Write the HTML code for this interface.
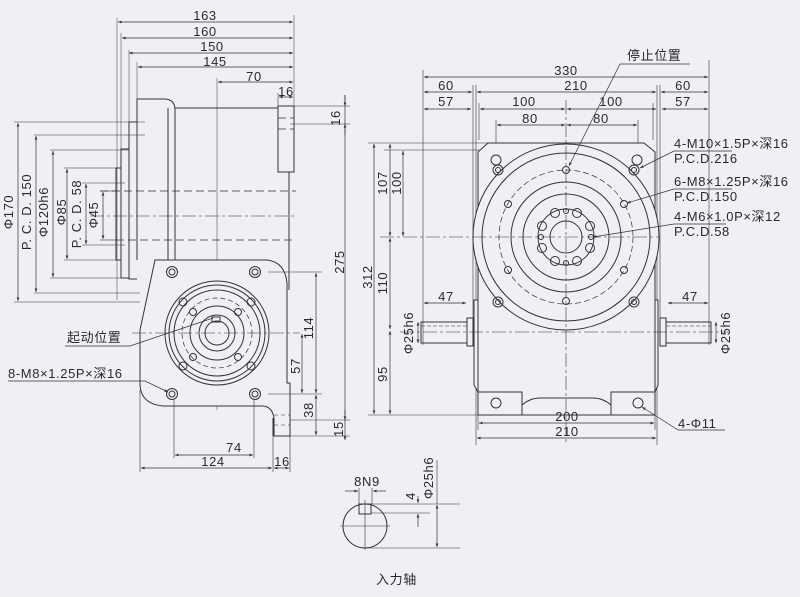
<!DOCTYPE html>
<html><head><meta charset="utf-8"><style>
html,body{margin:0;padding:0;background:#eef0f4}
svg{display:block}
text{font-family:"Liberation Sans","Noto Sans CJK SC",sans-serif;fill:#2a2a2a;font-size:13px;letter-spacing:0.6px}
</style></head><body>
<svg width="800" height="597" viewBox="0 0 800 597" xmlns="http://www.w3.org/2000/svg">
<defs>
<marker id="a" viewBox="0 0 10 10" refX="10" refY="5" markerWidth="7" markerHeight="5" orient="auto-start-reverse"><path d="M0,1 L10,5 L0,9z" fill="#333"/></marker>
</defs>
<rect width="800" height="597" fill="#eef0f4"/>
<g stroke="#333" fill="none" stroke-width="1">
<g stroke-width="0.6" stroke="#555">
<line x1="117" y1="18" x2="117" y2="300"/><line x1="121" y1="33" x2="121" y2="168"/>
<line x1="129" y1="50" x2="129" y2="122"/><line x1="137" y1="62" x2="137" y2="99"/>
<line x1="294" y1="15" x2="294" y2="106"/><line x1="217" y1="78" x2="217" y2="410"/>
</g>
<g stroke-width="0.7" marker-start="url(#a)" marker-end="url(#a)">
<line x1="118" y1="22" x2="293" y2="22"/><line x1="122" y1="38" x2="293" y2="38"/>
<line x1="129" y1="53" x2="293" y2="53"/><line x1="138" y1="67" x2="293" y2="67"/>
<line x1="218" y1="82" x2="293" y2="82"/><line x1="279" y1="97" x2="293" y2="97"/>
</g>
<line x1="278" y1="93" x2="278" y2="106" stroke-width="0.6"/>
<path d="M137,260 V99 H164 Q175,99 175,110 V260"/>
<line x1="168" y1="108" x2="168" y2="260"/>
<path d="M175,108 H278"/>
<rect x="278" y="106" width="16" height="66"/>
<line x1="289" y1="172" x2="289" y2="290"/>
<path d="M137,122 H129 V279 H137" />
<path d="M129,149 H121 V278 H129"/>
<path d="M121,168 H116 V260 H121"/>
<g stroke-dasharray="8,4" stroke-width="0.7">
<line x1="100" y1="191" x2="296" y2="191"/><line x1="116" y1="240" x2="296" y2="240"/>
<line x1="278" y1="118" x2="294" y2="118"/><line x1="278" y1="129" x2="294" y2="129"/>
</g>
<line x1="90" y1="216" x2="296" y2="216" stroke-dasharray="14,3,3,3" stroke-width="0.6"/>
<g stroke-width="0.6">
<line x1="14" y1="122" x2="145" y2="122"/><line x1="34" y1="135" x2="145" y2="135"/>
<line x1="50" y1="150" x2="129" y2="150"/><line x1="64" y1="168" x2="116" y2="168"/>
<line x1="82" y1="183" x2="125" y2="183"/><line x1="100" y1="191" x2="116" y2="191"/>
<line x1="100" y1="240" x2="116" y2="240"/><line x1="82" y1="245" x2="125" y2="245"/>
<line x1="64" y1="260" x2="116" y2="260"/><line x1="50" y1="278" x2="129" y2="278"/>
<line x1="34" y1="293" x2="140" y2="293"/><line x1="14" y1="302" x2="140" y2="302"/>
</g>
<g stroke-width="0.7" marker-start="url(#a)" marker-end="url(#a)">
<line x1="18" y1="123" x2="18" y2="301"/><line x1="36" y1="136" x2="36" y2="292"/>
<line x1="53" y1="151" x2="53" y2="277"/><line x1="67" y1="169" x2="67" y2="259"/>
<line x1="86" y1="184" x2="86" y2="244"/><line x1="103" y1="192" x2="103" y2="239"/>
</g>
<path d="M155,260 H267 Q285,262 287,283 V383 L290,383 V436 H274 V418 Q272,406 262,406 H163 Q141,404 140,385 V330 Z" fill="#eef0f4"/>
<line x1="273" y1="418" x2="273" y2="436"/>
<g stroke-dasharray="4,3" stroke-width="0.6"><line x1="274" y1="415" x2="290" y2="415"/><line x1="274" y1="425" x2="290" y2="425"/></g>
<g>
<circle cx="172" cy="272" r="5.5"/><circle cx="172" cy="272" r="3"/>
<circle cx="255" cy="272" r="5.5"/><circle cx="255" cy="272" r="3"/>
<circle cx="172" cy="394" r="5.5"/><circle cx="172" cy="394" r="3"/>
<circle cx="255" cy="394" r="5.5"/><circle cx="255" cy="394" r="3"/>
</g>
<circle cx="217" cy="333" r="52"/><circle cx="217" cy="333" r="48"/>
<circle cx="217" cy="333" r="43"/><circle cx="217" cy="333" r="35" stroke-dasharray="5,3" stroke-width="0.7"/>
<circle cx="217" cy="333" r="27"/><circle cx="217" cy="333" r="18"/><circle cx="217" cy="333" r="12"/>
<circle cx="183" cy="302" r="4"/><circle cx="251" cy="302" r="4"/><circle cx="183" cy="366" r="4"/><circle cx="251" cy="366" r="4"/>
<circle cx="193" cy="312" r="3.5"/><circle cx="238" cy="312" r="3.5"/><circle cx="193" cy="357" r="3.5"/><circle cx="238" cy="357" r="3.5"/>
<rect x="212" y="317" width="8" height="5"/>
<line x1="132" y1="333" x2="300" y2="333" stroke-dasharray="14,3,3,3" stroke-width="0.6"/>
<g stroke-width="0.6">
<line x1="268" y1="272" x2="322" y2="272"/><line x1="268" y1="394" x2="322" y2="394"/>
<line x1="290" y1="436" x2="350" y2="436"/><line x1="290" y1="420" x2="350" y2="420"/>
<line x1="294" y1="106" x2="350" y2="106"/><line x1="290" y1="124" x2="350" y2="124"/>
<line x1="140" y1="390" x2="140" y2="472"/><line x1="174" y1="400" x2="174" y2="458"/>
<line x1="254" y1="400" x2="254" y2="458"/><line x1="273" y1="436" x2="273" y2="472"/>
<line x1="290" y1="436" x2="290" y2="472"/>
</g>
<g stroke-width="0.7" marker-start="url(#a)" marker-end="url(#a)">
<line x1="316" y1="273" x2="316" y2="393"/><line x1="302" y1="334" x2="302" y2="393"/>
<line x1="316" y1="395" x2="316" y2="435"/>
<line x1="175" y1="455" x2="253" y2="455"/><line x1="141" y1="468" x2="272" y2="468"/>
<line x1="274" y1="468" x2="289" y2="468"/>
</g>
<line x1="345" y1="95" x2="345" y2="440" stroke-width="0.7" marker-end="url(#a)"/>
<line x1="345" y1="95" x2="345" y2="106" stroke-width="0.7" marker-end="url(#a)"/>
<line x1="345" y1="124" x2="345" y2="135" marker-start="url(#a)" stroke-width="0.7"/>
<line x1="345" y1="420" x2="345" y2="410" stroke-width="0.7" marker-start="url(#a)"/>
<g stroke-width="0.7">
<polyline points="65,346 130,346 213,318" /><polyline points="8,381 145,381 168,392" marker-end="url(#a)"/>
</g>

<g stroke-width="0.6">
<line x1="423" y1="70" x2="423" y2="345"/><line x1="709" y1="60" x2="709" y2="345"/>
<line x1="473" y1="85" x2="473" y2="322"/><line x1="476" y1="85" x2="476" y2="445"/>
<line x1="657" y1="85" x2="657" y2="445"/><line x1="660" y1="85" x2="660" y2="322"/>
<line x1="479" y1="103" x2="479" y2="140"/><line x1="653" y1="103" x2="653" y2="140"/>
<line x1="496" y1="120" x2="496" y2="168"/><line x1="638" y1="120" x2="638" y2="168"/>
<line x1="478" y1="392" x2="478" y2="430"/><line x1="655" y1="392" x2="655" y2="430"/>
<line x1="368" y1="143" x2="500" y2="143"/><line x1="384" y1="150" x2="496" y2="150"/>
<line x1="368" y1="415" x2="480" y2="415"/>
</g>
<g stroke-width="0.7" marker-start="url(#a)" marker-end="url(#a)">
<line x1="424" y1="77" x2="708" y2="77"/>
<line x1="424" y1="92" x2="472" y2="92"/><line x1="477" y1="92" x2="656" y2="92"/><line x1="661" y1="92" x2="708" y2="92"/>
<line x1="424" y1="109" x2="471" y2="109"/><line x1="480" y1="109" x2="565" y2="109"/><line x1="567" y1="109" x2="656" y2="109"/><line x1="662" y1="109" x2="708" y2="109"/>
<line x1="497" y1="125" x2="565" y2="125"/><line x1="567" y1="125" x2="637" y2="125"/>
<line x1="374" y1="144" x2="374" y2="414"/>
<line x1="390" y1="144" x2="390" y2="236"/><line x1="403" y1="151" x2="403" y2="236"/>
<line x1="390" y1="238" x2="390" y2="329"/><line x1="390" y1="331" x2="390" y2="414"/>
<line x1="424" y1="303" x2="466" y2="303"/><line x1="668" y1="303" x2="708" y2="303"/>
<line x1="418" y1="322" x2="418" y2="343"/><line x1="716" y1="322" x2="716" y2="343"/>
<line x1="479" y1="423" x2="654" y2="423"/><line x1="477" y1="438" x2="656" y2="438"/>
</g>
<path d="M488,143 H644 L655,152 V300 H658 V385 L655,392 V415 H478 V392 L474,385 V300 H478 V152 Z" fill="#eef0f4"/>
<line x1="478" y1="300" x2="478" y2="392"/><line x1="655" y1="300" x2="655" y2="392"/>
<path d="M478,392 H522 V405 Q530,398 540,398 H593 Q603,398 611,405 V392 H655"/>
<line x1="522" y1="405" x2="522" y2="415"/><line x1="611" y1="405" x2="611" y2="415"/>
<circle cx="496" cy="403" r="5"/><circle cx="638" cy="403" r="5"/>
<circle cx="566" cy="237" r="93" fill="#eef0f4"/>
<circle cx="566" cy="237" r="84"/>
<circle cx="566" cy="237" r="67" stroke-dasharray="6,3" stroke-width="0.7"/>
<circle cx="566" cy="237" r="55"/><circle cx="566" cy="237" r="43"/>
<circle cx="566" cy="237" r="28"/><circle cx="566" cy="237" r="16"/>
<circle cx="496" cy="160" r="5"/><circle cx="637" cy="160" r="5"/>
<circle cx="498" cy="170" r="5"/><circle cx="498" cy="170" r="2.5"/>
<circle cx="634" cy="170" r="5"/><circle cx="634" cy="170" r="2.5"/>
<circle cx="498" cy="302" r="5"/><circle cx="498" cy="302" r="2.5"/>
<circle cx="634" cy="302" r="5"/><circle cx="634" cy="302" r="2.5"/>
<g><circle cx="566" cy="170" r="3.5"/><circle cx="624" cy="204" r="3.5"/><circle cx="508" cy="204" r="3.5"/>
<circle cx="508" cy="270" r="3.5"/><circle cx="624" cy="270" r="3.5"/><circle cx="566" cy="301" r="3.5"/></g>
<g><circle cx="555" cy="213" r="4.5"/><circle cx="577" cy="213" r="4.5"/><circle cx="555" cy="261" r="4.5"/><circle cx="577" cy="261" r="4.5"/>
<circle cx="542" cy="226" r="4.5"/><circle cx="590" cy="226" r="4.5"/><circle cx="542" cy="248" r="4.5"/><circle cx="590" cy="248" r="4.5"/>
<circle cx="566" cy="211" r="2.5"/><circle cx="566" cy="263" r="2.5"/><circle cx="541" cy="237" r="2.5"/><circle cx="591" cy="237" r="2.5"/></g>
<rect x="421" y="322" width="46" height="21"/><rect x="467" y="318" width="6" height="28"/>
<rect x="666" y="322" width="45" height="21"/><rect x="660" y="318" width="6" height="28"/>
<g stroke-dasharray="4,2" stroke-width="0.6"><line x1="421" y1="326" x2="467" y2="326"/><line x1="666" y1="326" x2="711" y2="326"/></g>
<g stroke-dasharray="14,3,3,3" stroke-width="0.6">
<line x1="566" y1="100" x2="566" y2="445"/><line x1="380" y1="237" x2="660" y2="237"/>
<line x1="400" y1="332" x2="730" y2="332"/>
</g>
<g stroke-width="0.7">
<polyline points="690,64 620,64 569,166" marker-end="url(#a)"/>
<polyline points="732,151 674,151 640,168" marker-end="url(#a)"/>
<polyline points="732,189 674,189 627,203" marker-end="url(#a)"/>
<polyline points="726,224 674,224 593,237" marker-end="url(#a)"/>
<polyline points="725,430 678,430 642,407" marker-end="url(#a)"/>
</g>

<circle cx="365" cy="526" r="22"/>
<rect x="359" y="504" width="12" height="10"/>
<line x1="340" y1="526" x2="390" y2="526" stroke-width="0.6"/><line x1="365" y1="500" x2="365" y2="550" stroke-width="0.6"/>
<g stroke-width="0.6"><line x1="359" y1="488" x2="359" y2="504"/><line x1="372" y1="488" x2="372" y2="504"/>
<line x1="371" y1="504" x2="460" y2="504"/><line x1="371" y1="513" x2="430" y2="513"/><line x1="365" y1="548" x2="460" y2="548"/>
<line x1="437" y1="460" x2="437" y2="504"/></g>
<line x1="345" y1="491" x2="358" y2="491" stroke-width="0.7" marker-end="url(#a)"/>
<line x1="386" y1="491" x2="373" y2="491" stroke-width="0.7" marker-end="url(#a)"/>
<line x1="418" y1="496" x2="418" y2="503" stroke-width="0.7" marker-end="url(#a)"/>
<line x1="418" y1="527" x2="418" y2="514" stroke-width="0.7" marker-end="url(#a)"/>
<line x1="437" y1="505" x2="437" y2="547" stroke-width="0.7" marker-start="url(#a)" marker-end="url(#a)"/>
</g>

<g text-anchor="middle">
<text x="205" y="20">163</text><text x="205" y="36">160</text><text x="212" y="51">150</text>
<text x="215" y="66">145</text><text x="254" y="81">70</text><text x="286" y="96">16</text>
<text x="234" y="452">74</text><text x="213" y="466">124</text><text x="282" y="466">16</text>
<text x="566" y="75">330</text><text x="446" y="90">60</text><text x="576" y="90">210</text><text x="683" y="90">60</text>
<text x="446" y="106">57</text><text x="524" y="106">100</text><text x="611" y="106">100</text><text x="683" y="106">57</text>
<text x="530" y="123">80</text><text x="601" y="123">80</text>
<text x="446" y="301">47</text><text x="690" y="301">47</text>
<text x="567" y="421">200</text><text x="567" y="436">210</text>
<text x="367" y="486">8N9</text>
</g>
<g>
<text transform="translate(13,212) rotate(-90)" text-anchor="middle">Φ170</text>
<text transform="translate(31,212) rotate(-90)" text-anchor="middle">P. C. D. 150</text>
<text transform="translate(48,212) rotate(-90)" text-anchor="middle">Φ120h6</text>
<text transform="translate(66,212) rotate(-90)" text-anchor="middle">Φ85</text>
<text transform="translate(81,214) rotate(-90)" text-anchor="middle">P. C. D. 58</text>
<text transform="translate(98,215) rotate(-90)" text-anchor="middle">Φ45</text>
<text transform="translate(340,118) rotate(-90)" text-anchor="middle">16</text>
<text transform="translate(344,262) rotate(-90)" text-anchor="middle">275</text>
<text transform="translate(313,328) rotate(-90)" text-anchor="middle">114</text>
<text transform="translate(300,366) rotate(-90)" text-anchor="middle">57</text>
<text transform="translate(313,410) rotate(-90)" text-anchor="middle">38</text>
<text transform="translate(343,429) rotate(-90)" text-anchor="middle">15</text>
<text transform="translate(372,277) rotate(-90)" text-anchor="middle">312</text>
<text transform="translate(387,183) rotate(-90)" text-anchor="middle">107</text>
<text transform="translate(401,183) rotate(-90)" text-anchor="middle">100</text>
<text transform="translate(387,283) rotate(-90)" text-anchor="middle">110</text>
<text transform="translate(387,374) rotate(-90)" text-anchor="middle">95</text>
<text transform="translate(413,333) rotate(-90)" text-anchor="middle">Φ25h6</text>
<text transform="translate(730,333) rotate(-90)" text-anchor="middle">Φ25h6</text>
<text transform="translate(415,496) rotate(-90)" text-anchor="middle">4</text>
<text transform="translate(433,478) rotate(-90)" text-anchor="middle">Φ25h6</text>
</g>
<text x="67" y="342" font-size="14" letter-spacing="1.5">起动位置</text>
<text x="8" y="378">8-M8×1.25P×深16</text>
<text x="627" y="60" font-size="14" letter-spacing="1.5">停止位置</text>
<text x="674" y="148">4-M10×1.5P×深16</text>
<text x="674" y="163">P.C.D.216</text>
<text x="674" y="186">6-M8×1.25P×深16</text>
<text x="674" y="201">P.C.D.150</text>
<text x="674" y="221">4-M6×1.0P×深12</text>
<text x="674" y="236">P.C.D.58</text>
<text x="678" y="428">4-Φ11</text>
<text x="376" y="584" font-size="15" letter-spacing="2">入力轴</text>
</svg>
</body></html>
